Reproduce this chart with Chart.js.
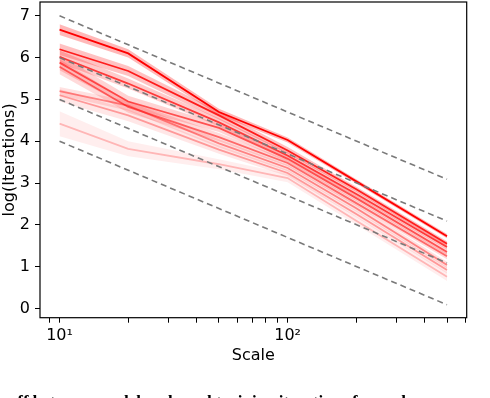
<!DOCTYPE html>
<html>
<head>
<meta charset="utf-8">
<script src="https://cdn.jsdelivr.net/npm/chart.js@4"></script>
<style>
  html, body { margin: 0; padding: 0; background: #fff; }
  body { width: 490px; height: 398px; overflow: hidden; position: relative; }
  #caption {
    position: absolute; left: -40px; top: 392px; white-space: nowrap;
    font: bold 17px/20px "Liberation Serif", serif; color: #000;
  }
</style>
</head>
<body>
<canvas id="chart" width="490" height="398"></canvas>
<div id="caption">Trade-off between model scale and training iterations for each run</div>
<script>
// x values (scale) shared by all runs
const scales = [10, 20, 50, 100, 200, 500];

// red runs, brightest first
const run1 = [6.67, 6.10, 4.70, 4.03, 3.04, 1.73];
const run2 = [6.20, 5.68, 4.62, 3.78, 2.85, 1.55];
const run3 = [6.02, 5.38, 4.45, 3.66, 2.74, 1.47];
const run4 = [5.88, 4.95, 4.32, 3.58, 2.64, 1.35];
const run5 = [5.78, 4.82, 4.10, 3.48, 2.52, 1.25];
const run6 = [5.20, 4.85, 3.95, 3.36, 2.40, 1.04];
const run7 = [5.10, 4.62, 3.80, 3.24, 2.26, 0.92];
const run8 = [4.42, 3.82, 3.45, 3.12, 2.10, 0.76];

// half width of the shaded band around each run
const spread1 = [0.13, 0.10, 0.08, 0.06, 0.05, 0.05];
const spread2 = [0.14, 0.12, 0.10, 0.08, 0.06, 0.06];
const spread3 = [0.15, 0.12, 0.10, 0.08, 0.07, 0.06];
const spread4 = [0.18, 0.14, 0.10, 0.08, 0.07, 0.07];
const spread5 = [0.18, 0.14, 0.10, 0.08, 0.07, 0.07];
const spread6 = [0.10, 0.12, 0.10, 0.08, 0.08, 0.08];
const spread7 = [0.15, 0.14, 0.10, 0.08, 0.08, 0.08];
const spread8 = [0.30, 0.18, 0.12, 0.10, 0.10, 0.10];

const runAlpha = [1.0, 0.85, 0.72, 0.62, 0.52, 0.42, 0.34, 0.24];

// dashed reference lines (slope -1 in scale)
const refScales = [10, 500];
const ref7 = [7.0, 3.09];
const ref6 = [6.0, 2.09];
const ref5 = [5.0, 1.09];
const ref4 = [4.0, 0.09];

const xTickValues = [9, 10, 20, 30, 40, 50, 60, 70, 80, 90, 100, 200, 300, 400, 500, 600];
const yTickValues = [0, 1, 2, 3, 4, 5, 6, 7];

const runs = [run1, run2, run3, run4, run5, run6, run7, run8];
const spreads = [spread1, spread2, spread3, spread4, spread5, spread6, spread7, spread8];
const refs = [ref7, ref6, ref5, ref4];

const pts = (xs, ys) => xs.map((x, i) => ({ x, y: ys[i] }));

const datasets = [];
refs.forEach(r => {
  datasets.push({
    data: pts(refScales, r),
    borderColor: '#7a7a7a',
    borderWidth: 1.6,
    borderDash: [6, 4],
    pointRadius: 0,
    fill: false,
  });
});
runs.forEach((run, k) => {
  datasets.push({
    data: pts(scales, run),
    borderColor: `rgba(255,0,0,${runAlpha[k]})`,
    borderWidth: 1.8,
    pointRadius: 0,
    fill: false,
  });
});
runs.forEach((run, k) => {
  const a = runAlpha[k];
  const sp = spreads[k];
  const idx = datasets.length;
  datasets.push({
    data: pts(scales, run.map((v, i) => v + sp[i])),
    borderWidth: 0,
    pointRadius: 0,
    backgroundColor: `rgba(255,0,0,${(a * 0.28).toFixed(3)})`,
    fill: idx + 1,
  });
  datasets.push({
    data: pts(scales, run.map((v, i) => v - sp[i])),
    borderWidth: 0,
    pointRadius: 0,
    fill: false,
  });
});

const frame = {
  id: 'frame',
  afterDraw(chart) {
    const { ctx, chartArea: a } = chart;
    ctx.save();
    ctx.strokeStyle = '#000';
    ctx.lineWidth = 1.2;
    ctx.strokeRect(a.left, a.top, a.right - a.left, a.bottom - a.top);
    ctx.restore();
  }
};

const font = { family: '"DejaVu Sans", sans-serif', size: 16 };

new Chart(document.getElementById('chart'), {
  type: 'line',
  data: { datasets },
  plugins: [frame],
  options: {
    responsive: false,
    animation: false,
    devicePixelRatio: 1,
    layout: { padding: { top: 2, right: 23.3, bottom: 33, left: 0 } },
    plugins: { legend: { display: false }, tooltip: { enabled: false } },
    elements: { line: { tension: 0 } },
    scales: {
      x: {
        type: 'logarithmic',
        min: 8.21,
        max: 610,
        afterFit: s => { s.height = 47.3; s.paddingLeft = 0; s.paddingRight = 0; },
        afterBuildTicks: s => { s.ticks = xTickValues.map(v => ({ value: v, major: v === 10 || v === 100 })); },
        border: { display: false },
        grid: { drawOnChartArea: false, tickLength: 5, tickColor: '#000', tickWidth: 1 },
        ticks: {
          autoSkip: false,
          maxRotation: 0,
          padding: 4,
          color: '#000',
          font,
          callback: v => (v === 10 ? '10¹' : v === 100 ? '10²' : ''),
        },
        title: { display: true, text: 'Scale', color: '#000', font, padding: 0 },
      },
      y: {
        type: 'linear',
        min: -0.22,
        max: 7.33,
        afterFit: s => { s.width = 40; s.paddingTop = 0; s.paddingBottom = 0; },
        afterBuildTicks: s => { s.ticks = yTickValues.map(v => ({ value: v })); },
        border: { display: false },
        grid: { drawOnChartArea: false, tickLength: 5, tickColor: '#000', tickWidth: 1 },
        ticks: { padding: 5, color: '#000', font },
        title: { display: true, text: 'log(Iterations)', color: '#000', font, padding: 0 },
      },
    },
  },
});
</script>
</body>
</html>
